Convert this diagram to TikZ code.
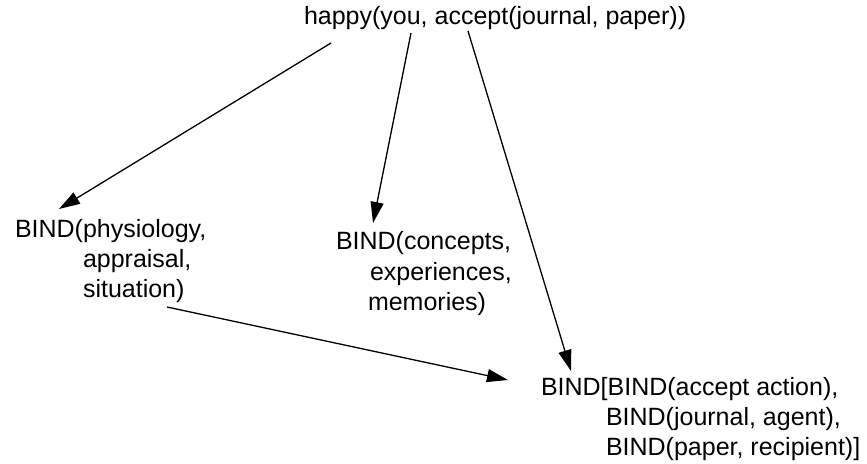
\documentclass[tikz,border=0pt]{standalone}
\usepackage{fontspec}
\setmainfont{Liberation Sans}
\usetikzlibrary{arrows.meta,calc}

\tikzset{
  term/.style={anchor=base west, inner sep=0pt, outer sep=0pt,
    font=\fontsize{25}{30}\selectfont},
  link/.style={line width=1.3pt,
    -{Triangle[length=21pt,width=13pt]}},
}

\begin{document}
\begin{tikzpicture}[x=1pt,y=-1pt]
  \useasboundingbox (0,0) rectangle (867,463);

  % top proposition
  \node[term] (top) at (304,24) {happy(you, accept(journal, paper))};

  % left binding
  \node[term] (phys1) at (15,237) {BIND(physiology,};
  \node[term] (phys2) at (83,267) {appraisal,};
  \node[term] (phys3) at (83,297) {situation)};

  % middle binding
  \node[term] (conc1) at (336,249) {BIND(concepts,};
  \node[term] (conc2) at (370,280) {experiences,};
  \node[term] (conc3) at (368,310) {memories)};

  % right nested binding
  \node[term] (bind1) at (541,395) {BIND[BIND(accept action),};
  \node[term] (bind2) at (606,425) {BIND(journal, agent),};
  \node[term] (bind3) at (606,455) {BIND(paper, recipient)]};

  % connectors
  \draw[link] ($(top.base west)+(27,19)$)  -- ($(phys1.base west)+(44,-28)$);
  \draw[link] ($(top.base west)+(107,9)$)  -- ($(conc1.base west)+(37,-26)$);
  \draw[link] ($(top.base west)+(164,7)$)  -- ($(bind1.base west)+(30,-24)$);
  \draw[link] ($(phys3.base west)+(84,10)$) -- ($(bind1.base west)+(-33,-15)$);
\end{tikzpicture}
\end{document}
